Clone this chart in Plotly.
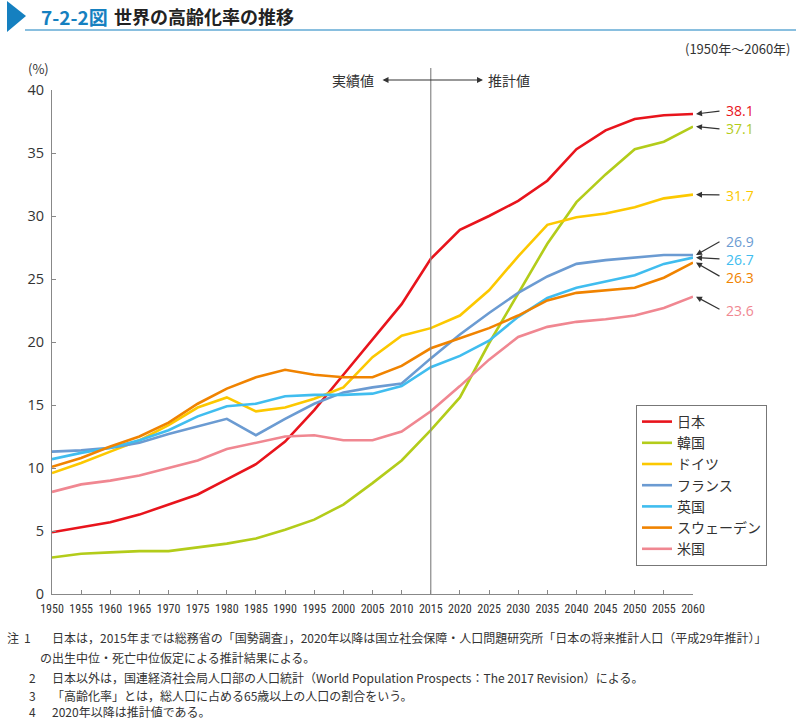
import plotly.graph_objects as go

years = [1950, 1955, 1960, 1965, 1970, 1975, 1980, 1985, 1990, 1995, 2000, 2005,
         2010, 2015, 2020, 2025, 2030, 2035, 2040, 2045, 2050, 2055, 2060]

japan = [4.9, 5.3, 5.7, 6.3, 7.1, 7.9, 9.1, 10.3, 12.1, 14.6, 17.4, 20.2,
         23.0, 26.6, 28.9, 30.0, 31.2, 32.8, 35.3, 36.8, 37.7, 38.0, 38.1]
korea = [2.9, 3.2, 3.3, 3.4, 3.4, 3.7, 4.0, 4.4, 5.1, 5.9, 7.1, 8.8,
         10.6, 13.0, 15.6, 19.9, 23.9, 27.8, 31.1, 33.3, 35.3, 35.9, 37.1]
germany = [9.6, 10.4, 11.3, 12.2, 13.4, 14.8, 15.6, 14.5, 14.8, 15.5, 16.4, 18.8,
           20.5, 21.1, 22.1, 24.1, 26.8, 29.3, 29.9, 30.2, 30.7, 31.4, 31.7]
france = [11.3, 11.4, 11.6, 12.0, 12.7, 13.3, 13.9, 12.6, 13.9, 15.1, 16.0, 16.4,
          16.7, 18.7, 20.6, 22.3, 23.9, 25.2, 26.2, 26.5, 26.7, 26.9, 26.9]
uk = [10.7, 11.2, 11.6, 12.2, 13.0, 14.1, 14.9, 15.1, 15.7, 15.8, 15.8, 15.9,
      16.5, 18.0, 18.9, 20.1, 22.0, 23.5, 24.3, 24.8, 25.3, 26.2, 26.7]
sweden = [10.1, 10.8, 11.7, 12.5, 13.6, 15.1, 16.3, 17.2, 17.8, 17.4, 17.2, 17.2,
          18.1, 19.5, 20.3, 21.1, 22.1, 23.3, 23.9, 24.1, 24.3, 25.1, 26.3]
usa = [8.1, 8.7, 9.0, 9.4, 10.0, 10.6, 11.5, 12.0, 12.5, 12.6, 12.2, 12.2,
       12.9, 14.5, 16.5, 18.6, 20.4, 21.2, 21.6, 21.8, 22.1, 22.7, 23.6]

names = ["日本", "韓国", "ドイツ", "フランス", "英国", "スウェーデン", "米国"]
series = [japan, korea, germany, france, uk, sweden, usa]
colors = ["#e8141c", "#b3cc1a", "#fcc800", "#6b9bd2", "#40bdef", "#f08300", "#f08791"]

yticks = [0, 5, 10, 15, 20, 25, 30, 35, 40]
xticks = years

W, H = 796, 720
L, R, T, B = 52, 103, 90, 126
PW, PH = W - L - R, H - T - B


def px(x):
    return (x - L) / PW


def py(y):
    return (H - B - y) / PH


JP = "Noto Sans CJK JP, Noto Sans, sans-serif"
TXT = "#333333"

fig = go.Figure()
for n, s, c in zip(names, series, colors):
    fig.add_trace(go.Scatter(x=years, y=s, name=n, mode="lines",
                             line=dict(color=c, width=2.6)))

fig.update_layout(
    width=W, height=H,
    margin=dict(l=L, r=R, t=T, b=B, pad=0),
    paper_bgcolor="white", plot_bgcolor="white",
    font=dict(family=JP, color=TXT),
    showlegend=True,
    legend=dict(x=px(636), y=py(405), xanchor="left", yanchor="top",
                bgcolor="white", bordercolor="#777777", borderwidth=1,
                font=dict(size=14, family=JP, color=TXT),
                tracegroupgap=0, itemwidth=30),
)
fig.update_xaxes(range=[1950, 2060], tickvals=xticks, ticktext=[str(v) for v in xticks],
                 showgrid=False, zeroline=False, showline=True, linecolor="#888888",
                 linewidth=1, ticks="inside", ticklen=4, tickcolor="#888888",
                 ticklabelstandoff=4,
                 tickfont=dict(size=12, family="Liberation Sans Narrow, Roboto Condensed, Roboto, sans-serif",
                               color=TXT))
fig.update_yaxes(range=[0, 40], tickvals=yticks, ticktext=[str(v) for v in yticks],
                 showgrid=False, zeroline=False, showline=True, linecolor="#888888",
                 linewidth=1, ticks="inside", ticklen=4, tickcolor="#888888",
                 ticklabelstandoff=4,
                 tickfont=dict(size=14.5, family="Open Sans, Noto Sans, sans-serif", color=TXT))

shapes = []
# 2015 divider
shapes.append(dict(type="line", xref="x", yref="paper", x0=2015, x1=2015,
                   y0=0, y1=py(68), line=dict(color="#888888", width=1.2)))
# title triangle and underline
shapes.append(dict(type="path", xref="paper", yref="paper",
                   path=f"M {px(7)},{py(1)} L {px(26)},{py(16)} L {px(7)},{py(32)} Z",
                   fillcolor="#1580c0", line=dict(width=0)))
shapes.append(dict(type="line", xref="paper", yref="paper", x0=px(25), x1=px(796),
                   y0=py(30), y1=py(30), line=dict(color="#1580c0", width=1.2)))
fig.update_layout(shapes=shapes)

ann = []
ann.append(dict(xref="paper", yref="paper", x=px(39), y=py(16), xanchor="left", yanchor="middle",
                text="<b>7-2-2図</b>", showarrow=False,
                font=dict(size=19, color="#1580c0", family=JP)))
ann.append(dict(xref="paper", yref="paper", x=px(112), y=py(16), xanchor="left", yanchor="middle",
                text="<b>世界の高齢化率の推移</b>", showarrow=False,
                font=dict(size=18, color="#222222", family=JP)))
ann.append(dict(xref="paper", yref="paper", x=px(793), y=py(48), xanchor="right", yanchor="middle",
                text="(1950年～2060年)", showarrow=False, font=dict(size=13, color=TXT, family=JP)))
ann.append(dict(xref="paper", yref="paper", x=px(38), y=py(69), xanchor="center", yanchor="middle",
                text="(%)", showarrow=False, font=dict(size=13, color=TXT, family=JP)))
ann.append(dict(xref="paper", yref="paper", x=px(376), y=py(80), xanchor="right", yanchor="middle",
                text="実績値", showarrow=False, font=dict(size=14, color=TXT, family=JP)))
ann.append(dict(xref="paper", yref="paper", x=px(486), y=py(80), xanchor="left", yanchor="middle",
                text="推計値", showarrow=False, font=dict(size=14, color=TXT, family=JP)))
ann.append(dict(xref="paper", yref="paper", x=px(483), y=py(80), ax=-102, ay=0,
                axref="pixel", ayref="pixel", text="", showarrow=True,
                arrowhead=2, startarrowhead=2, arrowside="end+start", arrowsize=1,
                arrowwidth=1.2, arrowcolor="#333333", standoff=0, startstandoff=0))

# end-value labels with arrows pointing at the 2060 value of each line
end_vals = [38.1, 37.1, 31.7, 26.9, 26.7, 26.3, 23.6]
label_ypix = [111, 129, 195, 241, 259, 277, 310]
for v, s, c, ly in zip(end_vals, series, colors, label_ypix):
    head_y = s[-1]
    head_pix = H - B - head_y * PH / 40
    ann.append(dict(xref="paper", yref="y", x=px(696), y=head_y, ax=25, ay=ly - head_pix,
                    axref="pixel", ayref="pixel", text="", showarrow=True,
                    arrowhead=2, arrowsize=1, arrowwidth=1.2, arrowcolor="#333333",
                    standoff=0))
    ann.append(dict(xref="paper", yref="paper", x=px(725), y=py(ly), xanchor="left",
                    yanchor="middle", text=f"{v}", showarrow=False, borderpad=0,
                    font=dict(size=14, color=c, family="Open Sans, Noto Sans, sans-serif")))

notes = [
    (5, 637, "注"),
    (22, 637, "1"),
    (50, 637, "日本は，2015年までは総務省の「国勢調査」，2020年以降は国立社会保障・人口問題研究所「日本の将来推計人口（平成29年推計）」"),
    (38, 657, "の出生中位・死亡中位仮定による推計結果による。"),
    (27, 677, "2"),
    (50, 677, "日本以外は，国連経済社会局人口部の人口統計（World Population Prospects：The 2017 Revision）による。"),
    (27, 695, "3"),
    (50, 695, "「高齢化率」とは，総人口に占める65歳以上の人口の割合をいう。"),
    (27, 711, "4"),
    (50, 711, "2020年以降は推計値である。"),
]
for x, y, t in notes:
    ann.append(dict(xref="paper", yref="paper", x=px(x), y=py(y), xanchor="left", yanchor="middle",
                    text=t, showarrow=False, font=dict(size=12, color=TXT, family=JP)))

fig.update_layout(annotations=ann)
fig.write_html("out.html", config={"displayModeBar": False},
               post_script="document.body.style.margin='0px';document.body.style.padding='0px';")
